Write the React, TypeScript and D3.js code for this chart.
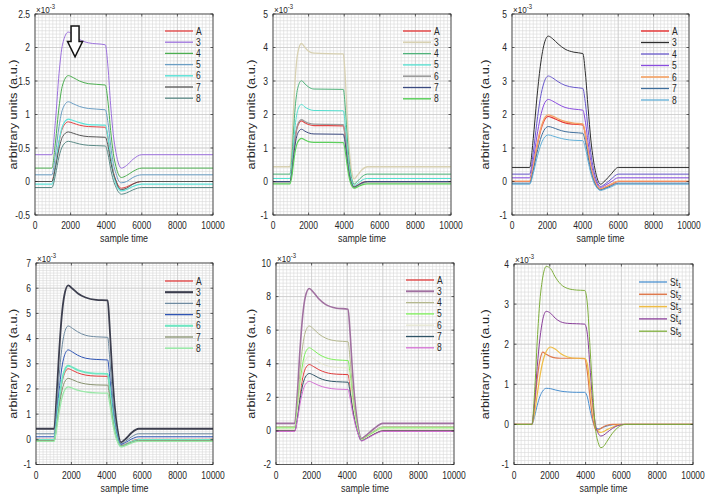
import React from "react";
import * as d3 from "d3";

// sample-time ticks shared by all panels
const xTicks = [0, 2000, 4000, 6000, 8000, 10000];
const numLabels = ["A", "3", "4", "5", "6", "7", "8"];
const stLabels = ["1", "2", "3", "4", "5"];

// panel 1 (x10^-3)
const p1YTicks = [-0.5, 0, 0.5, 1, 1.5, 2, 2.5];
const p1Time = [0, 950, 1150, 1350, 1550, 1870, 2150, 2500, 3000, 3950, 4100, 4250, 4400, 4550, 4700, 4850, 5150, 5500, 6000, 10000];
const p1Values = [
  [0, 0, 0.25, 0.59, 0.8, 0.89, 0.87, 0.84, 0.82, 0.81, 0.65, 0.36, 0.15, 0.01, -0.07, -0.1, -0.08, -0.035, 0, 0],
  [0.4, 0.4, 0.91, 1.61, 2.05, 2.23, 2.19, 2.12, 2.07, 2.04, 1.71, 1.14, 0.7, 0.43, 0.26, 0.2, 0.24, 0.33, 0.4, 0.4],
  [0.2, 0.2, 0.59, 1.11, 1.44, 1.58, 1.55, 1.5, 1.46, 1.44, 1.19, 0.76, 0.42, 0.22, 0.1, 0.06, 0.09, 0.15, 0.2, 0.2],
  [0.1, 0.1, 0.41, 0.82, 1.08, 1.19, 1.16, 1.12, 1.09, 1.07, 0.88, 0.54, 0.27, 0.12, 0.01, -0.02, 0, 0.06, 0.1, 0.1],
  [-0.04, -0.04, 0.23, 0.6, 0.83, 0.93, 0.91, 0.88, 0.85, 0.84, 0.66, 0.36, 0.12, -0.03, -0.11, -0.14, -0.12, -0.075, -0.04, -0.04],
  [0, 0, 0.21, 0.49, 0.67, 0.74, 0.72, 0.69, 0.67, 0.66, 0.53, 0.3, 0.12, 0.01, -0.09, -0.12, -0.1, -0.04, 0, 0],
  [-0.09, -0.09, 0.1, 0.37, 0.53, 0.6, 0.585, 0.56, 0.54, 0.53, 0.41, 0.19, 0.02, -0.085, -0.16, -0.19, -0.17, -0.125, -0.09, -0.09],
];

// panel 2
const p2YTicks = [-1, 0, 1, 2, 3, 4, 5];
const p2Time = [0, 950, 1050, 1150, 1250, 1400, 1600, 1800, 2000, 2300, 3950, 4050, 4150, 4250, 4350, 4450, 4550, 4750, 5000, 5300, 10000];
const p2Values = [
  [0, 0, 0.27, 0.81, 1.3, 1.68, 1.81, 1.75, 1.7, 1.67, 1.66, 1.36, 0.83, 0.37, 0.07, -0.1, -0.16, -0.11, -0.04, 0, 0],
  [0.44, 0.44, 0.99, 2.1, 3.09, 3.86, 4.12, 4.0, 3.89, 3.83, 3.81, 3.2, 2.13, 1.18, 0.57, 0.22, 0.08, 0.19, 0.35, 0.44, 0.44],
  [0.22, 0.22, 0.64, 1.48, 2.23, 2.81, 3.01, 2.91, 2.82, 2.76, 2.75, 2.29, 1.49, 0.78, 0.31, 0.04, -0.08, 0.01, 0.145, 0.22, 0.22],
  [0.09, 0.09, 0.42, 1.08, 1.68, 2.15, 2.3, 2.22, 2.16, 2.12, 2.11, 1.75, 1.1, 0.53, 0.17, -0.04, -0.12, -0.06, 0.04, 0.09, 0.09],
  [-0.02, -0.02, 0.26, 0.82, 1.33, 1.72, 1.85, 1.79, 1.74, 1.71, 1.7, 1.39, 0.84, 0.36, 0.05, -0.11, -0.17, -0.12, -0.06, -0.02, -0.02],
  [0, 0, 0.23, 0.7, 1.12, 1.45, 1.56, 1.5, 1.45, 1.42, 1.41, 1.16, 0.71, 0.31, 0.05, -0.1, -0.17, -0.12, -0.04, 0, 0],
  [-0.07, -0.07, 0.13, 0.54, 0.91, 1.19, 1.29, 1.24, 1.19, 1.17, 1.16, 0.94, 0.55, 0.2, -0.03, -0.15, -0.2, -0.16, -0.1, -0.07, -0.07],
];

// panel 3
const p3YTicks = [-1, 0, 1, 2, 3, 4, 5];
const p3Time = [0, 1000, 1200, 1400, 1600, 1800, 2050, 2300, 2600, 3000, 3500, 4000, 4150, 4300, 4450, 4600, 4800, 5000, 5250, 5600, 6000, 10000];
const p3Values = [
  [0, 0, 0.43, 1.01, 1.49, 1.8, 1.94, 1.9, 1.83, 1.75, 1.71, 1.69, 1.39, 0.88, 0.42, 0.12, -0.13, -0.22, -0.18, -0.09, 0, 0],
  [0.42, 0.42, 1.28, 2.46, 3.44, 4.07, 4.34, 4.26, 4.11, 3.95, 3.86, 3.82, 3.21, 2.19, 1.27, 0.64, 0.12, -0.08, 0.02, 0.22, 0.42, 0.42],
  [0.22, 0.22, 0.86, 1.74, 2.48, 2.94, 3.15, 3.09, 2.98, 2.87, 2.81, 2.78, 2.32, 1.55, 0.86, 0.38, 0, -0.15, -0.08, 0.07, 0.22, 0.22],
  [0.11, 0.11, 0.62, 1.33, 1.91, 2.29, 2.45, 2.4, 2.31, 2.21, 2.16, 2.13, 1.77, 1.16, 0.62, 0.24, -0.06, -0.18, -0.12, -0.01, 0.11, 0.11],
  [0.01, 0.01, 0.45, 1.04, 1.53, 1.85, 1.99, 1.95, 1.87, 1.79, 1.74, 1.72, 1.41, 0.9, 0.44, 0.13, -0.13, -0.22, -0.17, -0.08, 0.01, 0.01],
  [-0.05, -0.05, 0.32, 0.83, 1.25, 1.52, 1.64, 1.61, 1.55, 1.49, 1.46, 1.44, 1.17, 0.72, 0.32, 0.05, -0.17, -0.25, -0.21, -0.13, -0.05, -0.05],
  [-0.08, -0.08, 0.24, 0.68, 1.05, 1.29, 1.39, 1.36, 1.31, 1.26, 1.23, 1.22, 0.99, 0.6, 0.25, 0, -0.19, -0.27, -0.23, -0.16, -0.08, -0.08],
];

// panel 4
const p4YTicks = [-1, 0, 1, 2, 3, 4, 5, 6, 7];
const p4Time = [0, 1030, 1150, 1300, 1450, 1600, 1820, 2050, 2350, 2800, 3400, 4050, 4150, 4300, 4450, 4600, 4800, 5050, 5400, 5800, 10000];
const p4Values = [
  [0, 0, 0.56, 1.46, 2.18, 2.6, 2.8, 2.74, 2.64, 2.55, 2.51, 2.5, 2.05, 1.13, 0.43, 0, -0.25, -0.19, -0.08, 0, 0],
  [0.42, 0.42, 1.56, 3.38, 4.86, 5.71, 6.11, 5.99, 5.8, 5.63, 5.54, 5.52, 4.6, 2.72, 1.29, 0.41, -0.12, 0.01, 0.26, 0.42, 0.42],
  [0.22, 0.22, 1.08, 2.45, 3.56, 4.2, 4.5, 4.41, 4.27, 4.13, 4.07, 4.05, 3.36, 1.94, 0.87, 0.21, -0.18, -0.08, 0.1, 0.22, 0.22],
  [0.1, 0.1, 0.79, 1.89, 2.79, 3.31, 3.55, 3.47, 3.34, 3.22, 3.17, 3.15, 2.6, 1.47, 0.62, 0.1, -0.2, -0.13, 0.01, 0.1, 0.1],
  [-0.02, -0.02, 0.57, 1.51, 2.27, 2.71, 2.92, 2.86, 2.75, 2.66, 2.61, 2.6, 2.13, 1.16, 0.43, -0.02, -0.28, -0.22, -0.1, -0.02, -0.02],
  [-0.05, -0.05, 0.44, 1.23, 1.88, 2.25, 2.42, 2.37, 2.28, 2.2, 2.16, 2.15, 1.75, 0.94, 0.32, -0.05, -0.28, -0.22, -0.12, -0.05, -0.05],
  [-0.08, -0.08, 0.35, 1.04, 1.6, 1.93, 2.08, 2.03, 1.95, 1.88, 1.84, 1.83, 1.49, 0.78, 0.24, -0.09, -0.3, -0.25, -0.15, -0.08, -0.08],
];

// panel 5
const p5YTicks = [-2, 0, 2, 4, 6, 8, 10];
const p5Time = [0, 1050, 1200, 1350, 1500, 1650, 1870, 2100, 2400, 2800, 3400, 4050, 4150, 4300, 4450, 4600, 4800, 5100, 5500, 6000, 10000];
const p5Values = [
  [0, 0, 0.87, 2.17, 3.16, 3.71, 3.95, 3.84, 3.65, 3.48, 3.38, 3.35, 2.75, 1.51, 0.57, -0.09, -0.55, -0.41, -0.19, 0, 0],
  [0.45, 0.45, 2.22, 4.87, 6.87, 8.0, 8.48, 8.26, 7.87, 7.52, 7.31, 7.25, 6.03, 3.51, 1.61, 0.33, -0.45, -0.23, 0.13, 0.45, 0.45],
  [0.25, 0.25, 1.57, 3.55, 5.05, 5.89, 6.25, 6.08, 5.78, 5.52, 5.36, 5.31, 4.4, 2.53, 1.11, 0.14, -0.5, -0.31, -0.01, 0.25, 0.25],
  [0.18, 0.18, 1.23, 2.8, 4.0, 4.66, 4.95, 4.81, 4.57, 4.36, 4.23, 4.19, 3.47, 1.98, 0.86, 0.05, -0.52, -0.35, -0.07, 0.18, 0.18],
  [0.08, 0.08, 1.04, 2.48, 3.58, 4.19, 4.45, 4.32, 4.1, 3.9, 3.79, 3.75, 3.09, 1.73, 0.7, -0.03, -0.55, -0.39, -0.14, 0.08, 0.08],
  [0, 0, 0.75, 1.88, 2.74, 3.21, 3.42, 3.33, 3.16, 3.01, 2.93, 2.9, 2.38, 1.31, 0.49, -0.11, -0.58, -0.44, -0.2, 0, 0],
  [-0.03, -0.03, 0.63, 1.61, 2.35, 2.77, 2.95, 2.86, 2.71, 2.58, 2.49, 2.47, 2.02, 1.1, 0.4, -0.15, -0.6, -0.46, -0.23, -0.03, -0.03],
];

// panel 6 (St_1..St_5)
const p6YTicks = [-1, 0, 1, 2, 3, 4];
const p6Time = [0, 1000, 1150, 1300, 1450, 1600, 1800, 2050, 2300, 2600, 3000, 3500, 3950, 4100, 4250, 4400, 4550, 4700, 4850, 5000, 5200, 5500, 5800, 6200, 10000];
const p6Values = [
  [0, 0, 0.2, 0.48, 0.7, 0.83, 0.9, 0.89, 0.86, 0.83, 0.81, 0.8, 0.8, 0.68, 0.35, 0.08, -0.08, -0.11, -0.1, -0.07, -0.04, -0.01, 0, 0, 0],
  [0, 0, 0.5, 1.15, 1.6, 1.8, 1.75, 1.69, 1.66, 1.65, 1.65, 1.65, 1.64, 1.3, 0.65, 0.15, -0.12, -0.14, -0.1, -0.06, -0.02, 0, 0, 0, 0],
  [0, 0, 0.3, 0.75, 1.2, 1.55, 1.82, 1.93, 1.88, 1.77, 1.68, 1.65, 1.65, 1.5, 0.95, 0.4, -0.05, -0.18, -0.2, -0.18, -0.13, -0.07, -0.02, 0, 0],
  [0, 0, 0.55, 1.45, 2.15, 2.6, 2.82, 2.77, 2.65, 2.56, 2.52, 2.51, 2.5, 2.25, 1.4, 0.55, 0, -0.22, -0.29, -0.27, -0.2, -0.1, -0.03, 0, 0],
  [0, 0, 0.8, 2.1, 3.1, 3.65, 3.94, 3.88, 3.68, 3.5, 3.39, 3.35, 3.34, 3.0, 1.9, 0.8, -0.1, -0.45, -0.58, -0.55, -0.42, -0.22, -0.08, 0, 0],
];

// arrow annotation in panel 1 (data units)
const arrowX = 2250;
const arrowTop = 2.32;
const arrowNeck = 2.09;
const arrowTip = 1.86;

type Spec = {
  left: number; top: number; width: number; height: number;
  yTicks: number[]; yMinorStep: number; labelX: number;
  time: number[]; values: number[][]; labels: string[]; sub?: boolean;
  colors: string[]; widths: number[]; legendTop: number; legendGap: number;
  arrow?: boolean;
};

const specs: Spec[] = [
  {
    left: 35, top: 14, width: 178, height: 201, yTicks: p1YTicks, yMinorStep: 0.05, labelX: 13,
    time: p1Time, values: p1Values, labels: numLabels,
    colors: ["#e23f3f", "#9d72dd", "#4cae50", "#6b9ec4", "#5ee2d8", "#555555", "#5b8a86"],
    widths: [1, 1, 1, 1, 1.2, 1, 1], legendTop: 17, legendGap: 11.2, arrow: true,
  },
  {
    left: 273, top: 14, width: 178, height: 201, yTicks: p2YTicks, yMinorStep: 0.1, labelX: 251,
    time: p2Time, values: p2Values, labels: numLabels,
    colors: ["#e34848", "#d8d1b2", "#4fb37a", "#52dfcf", "#9b9b9b", "#3b4a80", "#5ccf5c"],
    widths: [1.2, 1.3, 1, 1, 1.3, 1, 1.2], legendTop: 17, legendGap: 11.3,
  },
  {
    left: 512, top: 14, width: 177, height: 201, yTicks: p3YTicks, yMinorStep: 0.1, labelX: 485,
    time: p3Time, values: p3Values, labels: numLabels,
    colors: ["#e63a3a", "#2e2e2e", "#6a5acd", "#8a4de0", "#f4a46a", "#3f6e9c", "#62b0d8"],
    widths: [1.2, 1, 1, 1, 1.4, 1, 1], legendTop: 17, legendGap: 11.5,
  },
  {
    left: 36, top: 263, width: 177, height: 201.5, yTicks: p4YTicks, yMinorStep: 0.1, labelX: 13,
    time: p4Time, values: p4Values, labels: numLabels,
    colors: ["#e03c3c", "#3c3e4e", "#6e8aa0", "#2f55b5", "#6fe6c2", "#87916e", "#9ae8a8"],
    widths: [1, 1.8, 1, 1, 1.8, 1, 1.3], legendTop: 18, legendGap: 11.2,
  },
  {
    left: 276, top: 263, width: 178, height: 201.5, yTicks: p5YTicks, yMinorStep: 0.2, labelX: 251,
    time: p5Time, values: p5Values, labels: numLabels,
    colors: ["#e03a3a", "#a070a0", "#b5b88e", "#7ef05a", "#e6e6d0", "#2f5466", "#d46ed4"],
    widths: [1, 1.6, 1, 1, 1, 1, 1], legendTop: 17, legendGap: 11.3,
  },
  {
    left: 514, top: 264, width: 179, height: 200.5, yTicks: p6YTicks, yMinorStep: 0.1, labelX: 485,
    time: p6Time, values: p6Values, labels: stLabels, sub: true,
    colors: ["#4a90d0", "#df7a4e", "#efbd45", "#8a3f9a", "#7fae3c"],
    widths: [1, 1.2, 1.2, 1, 1], legendTop: 18, legendGap: 12.3,
  },
];

const fmt = (v: number) => String(Math.round(v * 100) / 100);
const SX = 0.85; // horizontal squeeze of the text, as in the picture
const ink = "#262626";

function SText({ x, y, size, anchor, children }: { x: number; y: number; size: number; anchor?: string; children: React.ReactNode }) {
  return (
    <text transform={`translate(${x},${y}) scale(${SX},1)`} fontSize={size} textAnchor={anchor || "start"} fill={ink}>
      {children}
    </text>
  );
}

function Panel({ s }: { s: Spec }) {
  const yMin = s.yTicks[0];
  const yMax = s.yTicks[s.yTicks.length - 1];
  const x = d3.scaleLinear().domain([0, 10000]).range([s.left, s.left + s.width]);
  const y = d3.scaleLinear().domain([yMin, yMax]).range([s.top + s.height, s.top]);
  const right = s.left + s.width;
  const bottom = s.top + s.height;

  const xMinor = d3.range(0, 10001, 200);
  const nY = Math.round((yMax - yMin) / s.yMinorStep);
  const yMinor = d3.range(0, nY + 1).map((i) => yMin + i * s.yMinorStep);

  const line = (vals: number[]) =>
    d3.line<number>()
      .x((_, i) => x(s.time[i]))
      .y((d) => y(d))
      .curve(d3.curveMonotoneX)(vals) || "";

  const tick = 2.5;
  const ax = x(arrowX);

  return (
    <g>
      {/* grid */}
      <g stroke="#d9d9d9" strokeWidth={0.6}>
        {xMinor.map((v) => (
          <line key={"gx" + v} x1={x(v)} x2={x(v)} y1={s.top} y2={bottom} />
        ))}
        {yMinor.map((v, i) => (
          <line key={"gy" + i} x1={s.left} x2={right} y1={y(v)} y2={y(v)} />
        ))}
      </g>
      <g stroke="#c4c4c4" strokeWidth={0.6}>
        {xTicks.map((v) => (
          <line key={"mx" + v} x1={x(v)} x2={x(v)} y1={s.top} y2={bottom} />
        ))}
        {s.yTicks.map((v) => (
          <line key={"my" + v} x1={s.left} x2={right} y1={y(v)} y2={y(v)} />
        ))}
      </g>

      {/* series */}
      {s.values.map((vals, i) => (
        <path key={"s" + i} d={line(vals)} fill="none" stroke={s.colors[i]} strokeWidth={s.widths[i]} />
      ))}

      {/* box and ticks */}
      <rect x={s.left} y={s.top} width={s.width} height={s.height} fill="none" stroke={ink} strokeWidth={0.7} />
      <g stroke={ink} strokeWidth={0.7}>
        {xTicks.map((v) => (
          <g key={"tx" + v}>
            <line x1={x(v)} x2={x(v)} y1={bottom} y2={bottom - tick} />
            <line x1={x(v)} x2={x(v)} y1={s.top} y2={s.top + tick} />
          </g>
        ))}
        {s.yTicks.map((v) => (
          <g key={"ty" + v}>
            <line x1={s.left} x2={s.left + tick} y1={y(v)} y2={y(v)} />
            <line x1={right} x2={right - tick} y1={y(v)} y2={y(v)} />
          </g>
        ))}
      </g>

      {/* tick labels */}
      {xTicks.map((v) => (
        <SText key={"lx" + v} x={x(v)} y={bottom + 14} size={10} anchor="middle">{v}</SText>
      ))}
      {s.yTicks.map((v) => (
        <SText key={"ly" + v} x={s.left - 5} y={y(v) + 3.5} size={10} anchor="end">{fmt(v)}</SText>
      ))}
      <SText x={s.left + 1} y={s.top - 1.5} size={9.5}>
        ×10<tspan fontSize={7} dy={-4}>-3</tspan>
      </SText>
      <SText x={(s.left + right) / 2} y={bottom + 27} size={10.5} anchor="middle">sample time</SText>
      <text
        transform={`translate(${s.labelX},${(s.top + bottom) / 2}) rotate(-90)`}
        textAnchor="middle" dy="0.35em" fontSize={10.5} fill={ink}
        textLength={110} lengthAdjust="spacingAndGlyphs"
      >
        arbitrary units (a.u.)
      </text>

      {/* legend */}
      {s.labels.map((lab, i) => {
        const ly = s.top + s.legendTop + i * s.legendGap;
        const x0 = right - (s.sub ? 54 : 48);
        return (
          <g key={"lg" + i}>
            <line x1={x0} x2={x0 + 28} y1={ly} y2={ly} stroke={s.colors[i]} strokeWidth={s.widths[i] + 0.3} />
            <SText x={x0 + 31} y={ly + 3.5} size={10}>
              {s.sub ? (
                <>St<tspan fontSize={7} dy={2.5}>{lab}</tspan></>
              ) : lab}
            </SText>
          </g>
        );
      })}

      {s.arrow && (
        <path
          d={`M${ax - 4},${y(arrowTop)} L${ax + 4},${y(arrowTop)} L${ax + 4},${y(arrowNeck)} L${ax + 7.5},${y(arrowNeck)} L${ax},${y(arrowTip)} L${ax - 7.5},${y(arrowNeck)} L${ax - 4},${y(arrowNeck)} Z`}
          fill="#ffffff" stroke="#111111" strokeWidth={1.5} strokeLinejoin="miter"
        />
      )}
    </g>
  );
}

export default function App() {
  return (
    <svg
      width={708}
      height={495}
      style={{ position: "absolute", left: 0, top: 0, background: "#ffffff" }}
      fontFamily="'Liberation Sans', Arial, Helvetica, sans-serif"
    >
      {specs.map((s, i) => (
        <Panel key={i} s={s} />
      ))}
    </svg>
  );
}
